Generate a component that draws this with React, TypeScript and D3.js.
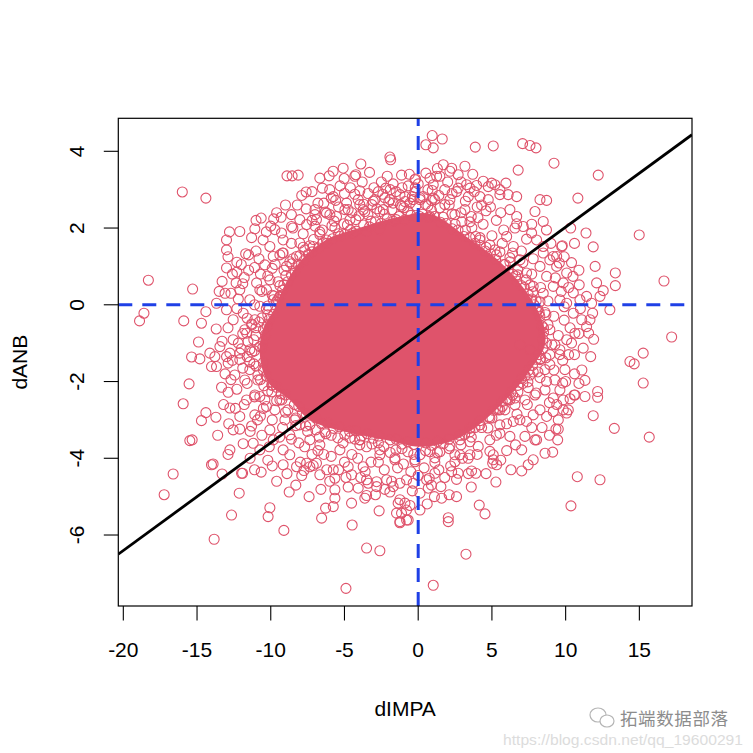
import React from 'react'
import * as d3 from 'd3'

// dIMPA (x) vs dANB (y)
const X_TICKS = [-20, -15, -10, -5, 0, 5, 10, 15]
const Y_TICKS = [-6, -4, -2, 0, 2, 4]

// least-squares fit drawn with abline
const FIT = { intercept: -0.785, slope: 0.281 }

// where the circles overplot into a solid blob (boundary, data units)
const DENSE_CORE: [number, number][] = [
  [-5.99, 1.75], [-3.96, 2.01], [-1.58, 2.27], [0.79, 2.37], [3.17, 1.8], [5.54, 1.12],
  [7.24, 0.39], [8.39, -0.39], [8.6, -1.04], [7.71, -1.64], [6.56, -2.22], [4.52, -3.0],
  [2.49, -3.52], [0.12, -3.7], [-2.26, -3.52], [-4.97, -3.31], [-7.35, -3.0], [-8.71, -2.48],
  [-10.2, -2.01], [-10.74, -1.3], [-10.54, -0.65], [-9.72, -0.08], [-9.04, 0.52], [-8.03, 1.12],
  [-7.01, 1.49],
]

// sparse points: upper-left
const PTS_UPPER_LEFT: [number, number][] = [
  [-16.0, 2.94], [-14.4, 2.78], [-18.3, 0.64], [-15.3, 0.41], [-18.6, -0.22], [-18.9, -0.42],
  [-15.9, -0.42], [-14.7, -0.48], [-14.9, -0.97], [-14.4, -0.18], [-13.7, -0.63],
  [-8.9, 3.36], [-8.55, 3.36], [-8.14, 3.38], [-7.6, 2.94], [-6.67, 3.3], [-6.5, 3.04],
  [-6.04, 3.36], [-5.77, 3.48], [-5.09, 3.56], [-5.02, 3.29], [-4.23, 3.39], [-3.89, 3.67],
  [-3.96, 2.97], [-1.92, 3.85], [-1.87, 3.78], [-2.1, 3.35], [-1.13, 3.38], [-2.2, 3.04],
  [-1.9, 3.0], [-0.18, 3.28], [0.52, 4.17], [0.52, 3.43],
  [-10.65, 2.26], [-9.8, 2.24], [-9.3, 2.28], [-8.6, 2.35], [-12.1, 1.91], [-11.08, 1.98],
  [-13.0, 1.69], [-13.0, 1.43], [-11.7, 1.33], [-13.0, 0.96], [-12.3, 1.11], [-13.3, 0.61],
  [-13.1, 0.3], [-12.3, 0.85], [-12.35, 0.57], [-11.8, 0.71], [-11.1, 0.97], [-10.7, 0.8],
  [-10.52, 1.69], [-10.06, 1.52], [-9.72, 1.96], [-9.27, 1.87], [-8.59, 2.04], [-8.03, 2.22],
  [-7.57, 2.09], [-7.0, 2.48], [-6.9, 2.22], [-6.22, 2.39], [-5.76, 2.82], [-5.54, 2.3],
  [-4.86, 2.65], [-4.75, 2.48], [-4.07, 2.74], [-3.73, 2.48], [-3.05, 2.7], [-2.37, 2.48],
  [-1.7, 2.65], [-1.13, 2.56], [-0.56, 2.65], [0.12, 2.74], [0.79, 2.3],
  [-10.96, 0.57], [-10.29, 0.39], [-9.83, 0.13], [-9.38, 0.22], [-10.74, -0.04], [-11.87, -0.22],
  [-12.55, -0.39], [-13.0, -0.13], [-13.68, 0.04], [-11.64, -0.74], [-12.55, -0.91],
  [-13.45, -1.09], [-14.13, -1.26], [-12.1, -1.26], [-10.74, -1.09], [-13.0, -1.35],
  [-9.16, 1.35], [-8.93, 1.0], [-8.25, 1.26], [-8.03, 1.61], [-7.12, 1.52], [-6.22, 1.69],
  [-5.31, 1.78], [-4.41, 1.87], [-3.5, 1.91], [-2.6, 1.96], [-9.16, 1.69], [-9.83, 1.26],
  [-6.4, 2.65], [-5.0, 2.9], [-3.4, 2.9], [-2.7, 2.95], [-1.5, 2.95],
  [-11.42, 0.13], [-10.74, 0.39], [-10.06, 0.65], [-11.08, -0.39], [-11.76, -0.65],
  [-10.4, 1.04], [-9.38, 1.3], [-12.1, 0.39],
  [-11.5, 1.3], [-12.6, 0.8], [-11.9, 0.55], [-12.8, 1.9], [-10.0, 2.05], [-11.0, 2.2],
  [-9.0, 2.6], [-7.9, 2.85], [-7.2, 2.95], [-5.3, 3.1],
]

// sparse points: upper-right
const PTS_UPPER_RIGHT: [number, number][] = [
  [0.95, 4.41], [1.02, 4.09], [1.63, 4.32], [3.87, 4.11], [5.09, 4.14], [7.08, 4.2],
  [7.58, 4.15], [7.99, 4.09], [9.21, 3.69], [12.21, 3.38], [10.83, 2.78], [6.78, 3.51],
  [14.99, 1.82], [11.38, 1.87], [11.87, 1.51], [13.37, 0.83], [13.37, 0.5], [16.67, 0.62],
  [12.1, 0.57], [12.55, 0.37], [12.33, 0.22], [13.0, -0.13], [17.19, -0.84], [15.26, -1.26],
  [10.34, 2.0], [10.5, 0.74], [10.92, 0.52], [11.42, 0.22], [11.76, 0.04], [11.83, -0.22],
  [11.65, -0.39], [11.56, -0.74], [11.19, -1.13], [9.77, 1.54], [9.39, 1.26], [9.57, 1.09],
  [7.35, 1.71], [6.56, 2.0], [6.68, 2.11], [8.26, 2.74], [8.71, 2.72], [7.92, 2.43],
  [8.48, 2.17], [6.68, 2.82], [5.95, 3.17], [5.2, 3.13], [4.75, 3.08], [3.96, 3.11],
  [3.17, 3.61], [2.27, 3.56], [1.7, 3.65], [1.25, 3.35], [-0.22, 3.26], [-0.68, 3.1],
  [0.95, 2.98], [1.02, 2.78], [2.71, 3.04], [2.6, 2.95], [4.19, 2.82], [4.75, 2.74],
  [5.54, 2.87], [8.48, 1.52], [9.16, 1.26], [9.73, 1.52], [10.07, 0.83], [9.84, 0.57],
  [10.52, 0.31], [10.97, 0.13], [10.52, -0.22], [11.09, -0.39], [11.42, -0.57], [10.63, -0.74],
  [10.07, -0.91],
  [-0.9, 2.82], [-0.34, 2.74], [0.34, 2.82], [1.02, 3.13], [1.47, 3.35], [2.15, 3.48],
  [2.71, 3.39], [3.28, 3.13], [3.51, 3.04], [4.41, 3.22], [4.98, 3.17], [5.54, 3.0], [6.1, 2.87],
  [6.22, 2.48], [6.68, 2.3], [7.12, 2.04], [7.69, 1.87], [8.03, 1.69], [8.48, 1.35],
  [8.93, 1.17], [9.39, 1.0], [8.26, 1.0], [8.71, 0.74], [9.16, 0.48], [9.61, 0.13],
  [10.07, 0.04], [8.48, 0.3], [7.8, 0.48], [7.35, 0.83], [6.9, 1.17], [6.45, 1.52], [6.0, 1.78],
  [4.6, 2.45], [5.3, 2.2], [5.8, 1.95], [4.0, 2.55], [3.2, 2.7], [2.3, 2.9], [7.0, 1.4],
  [7.8, 1.2], [8.0, 0.1], [9.3, 0.7], [8.6, -0.2], [9.9, -0.4],
]

// sparse points: lower-right
const PTS_LOWER_RIGHT: [number, number][] = [
  [14.36, -1.48], [14.65, -1.54], [15.26, -2.04], [15.67, -3.45], [13.3, -3.22], [11.31, -1.97],
  [11.31, -2.39], [12.17, -2.26], [12.17, -2.41], [10.63, -2.35], [11.87, -2.89], [10.79, -4.48],
  [12.33, -4.56], [10.36, -5.24], [3.24, -6.5], [1.02, -7.31], [4.14, -5.22], [4.53, -5.45],
  [2.04, -5.55], [2.04, -5.65], [5.27, -4.62], [1.54, -4.74], [2.1, -4.95], [1.59, -5.04],
  [0.61, -5.19], [0.12, -5.35], [-0.56, -5.23], [-0.79, -5.61], [-1.24, -5.65], [0.68, -4.78],
  [0.57, -4.56], [1.13, -4.39], [0.75, -4.52], [2.71, -4.39], [3.62, -4.33], [3.91, -4.39],
  [2.27, -4.35], [6.29, -4.3], [7.02, -4.33], [5.32, -4.17], [5.09, -4.04], [5.09, -3.91],
  [7.02, -3.78], [7.46, -4.17], [7.8, -4.04], [7.92, -3.52], [8.6, -3.87], [9.12, -3.84],
  [9.46, -3.52], [9.34, -3.24], [9.5, -3.24], [8.71, -2.91], [9.16, -2.78], [10.07, -2.82],
  [10.18, -2.74], [9.84, -2.74], [10.58, -2.35], [9.84, -2.48], [9.16, -2.43], [9.8, -2.04],
  [7.8, -2.87], [7.35, -3.04], [8.03, -3.52], [6.45, -3.04], [5.54, -3.35], [6.22, -3.43],
  [7.24, -3.43], [3.39, -4.0], [2.83, -3.91], [4.07, -3.69], [4.86, -3.82], [5.05, -4.13],
  [0.12, -4.91], [-0.34, -4.65], [-0.79, -4.56], [-1.24, -4.65], [-0.9, -5.17], [-1.13, -5.43],
  [6.9, -1.04], [7.58, -1.17], [8.26, -1.43], [8.93, -1.3], [9.61, -1.17], [9.95, -1.69],
  [9.27, -1.96], [8.6, -2.22], [7.92, -2.35], [7.24, -2.48], [6.56, -2.61], [5.88, -2.74],
  [7.58, -1.83], [8.6, -1.69], [9.61, -2.22], [8.26, -2.74], [6.9, -3.0], [5.54, -3.13],
  [4.86, -3.52], [6.22, -2.48], [10.2, -1.3], [10.6, -1.8], [9.5, -3.0],
]

// sparse points: lower-left
const PTS_LOWER_LEFT: [number, number][] = [
  [-15.37, -1.36], [-14.81, -1.41], [-14.02, -1.61], [-13.68, -1.61], [-12.89, -1.52],
  [-12.77, -1.26], [-13.79, -1.35], [-15.54, -2.06], [-15.94, -2.58], [-13.34, -2.15],
  [-12.89, -2.28], [-14.4, -2.81], [-14.7, -3.02], [-13.72, -2.93], [-12.77, -2.69],
  [-15.49, -3.54], [-15.33, -3.52], [-16.62, -4.41], [-17.23, -4.95], [-14.02, -4.17],
  [-13.91, -4.15], [-13.3, -4.41], [-12.14, -4.91], [-11.91, -4.39], [-12.66, -5.48],
  [-13.84, -6.11], [-10.65, -4.36], [-10.06, -5.29], [-10.18, -5.52], [-9.11, -5.88],
  [-8.75, -4.88], [-9.16, -4.17], [-7.75, -4.32], [-7.35, -4.22], [-7.12, -4.19], [-6.6, -4.81],
  [-5.65, -4.52], [-5.65, -4.82], [-5.65, -5.04], [-5.76, -5.26], [-6.28, -5.3], [-6.55, -5.56],
  [-4.52, -4.43], [-4.75, -4.75], [-4.52, -5.17], [-4.48, -5.74], [-3.5, -6.34], [-2.6, -6.41],
  [-4.9, -7.39], [-2.65, -5.37], [-3.62, -5.04], [-3.5, -4.97], [-4.07, -4.78], [-3.39, -4.65],
  [-2.82, -4.61], [-2.26, -4.81], [-1.92, -4.88], [-1.36, -5.17], [-1.47, -5.43], [-1.24, -5.68],
  [-0.68, -5.61],
  [-12.1, -3.24], [-11.3, -3.16], [-11.87, -3.62], [-11.19, -3.61], [-10.74, -3.78], [-11.98, -4.39],
  [-9.83, -3.52], [-9.16, -3.78], [-8.71, -3.91], [-8.25, -4.22], [-7.57, -4.13], [-6.9, -4.13],
  [-6.67, -4.43], [-5.76, -4.3], [-4.75, -4.22], [-3.73, -4.22], [-3.5, -4.56], [-2.82, -4.74],
  [-2.14, -4.56], [-1.7, -4.74], [-1.24, -5.08], [-0.79, -5.35],
  [-11.64, -2.48], [-10.74, -2.39], [-10.29, -2.65], [-12.1, -2.91], [-12.55, -3.26], [-12.77, -3.78],
  [-12.1, -1.43], [-11.42, -1.69], [-11.76, -1.96], [-11.08, -2.35], [-10.4, -2.48], [-9.72, -2.74],
  [-9.04, -3.0], [-8.03, -3.13], [-11.42, -1.17], [-12.44, -1.83], [-11.08, -2.87], [-10.06, -3.26],
  [-8.71, -3.39], [-7.35, -3.52], [-6.67, -3.65], [-5.31, -3.78], [-3.96, -3.65], [-2.6, -3.91],
  [-1.58, -4.04], [-0.22, -4.09], [1.13, -4.11], [2.49, -4.09], [3.51, -3.91],
  [-13.2, -2.6], [-12.3, -2.2], [-13.6, -3.4], [-12.9, -3.9], [-11.4, -4.0], [-10.2, -4.05],
  [-9.6, -4.6], [-8.3, -4.7], [-7.4, -5.0], [-10.9, -3.0],
]

// heavily overlapping points hugging the solid core
const PTS_CORE_EDGE: [number, number][] = [
  [-2.26, 2.79], [-1.24, 2.87], [-0.22, 2.95], [0.66, 3.0], [1.81, 2.61], [2.49, 2.35],
  [3.51, 2.16], [4.19, 1.69], [5.2, 1.43], [6.22, 1.23], [6.76, 0.78], [7.58, 0.52],
  [8.12, -0.13], [8.8, -0.52], [9.27, -1.04], [8.93, -1.56], [8.26, -1.9], [7.46, -2.16],
  [6.56, -2.43], [5.54, -2.74], [4.73, -3.21], [3.51, -3.57], [2.49, -3.91], [1.13, -3.99],
  [-0.22, -4.04], [-1.58, -3.99], [-2.6, -3.78], [-3.96, -3.52], [-4.98, -3.39], [-6.33, -3.31],
  [-7.35, -3.13], [-8.37, -3.0], [-9.25, -2.48], [-9.93, -2.09], [-10.88, -1.96], [-11.42, -1.49],
  [-11.55, -0.96], [-11.28, -0.52], [-10.2, -0.26], [-9.52, 0.13], [-9.11, 0.52], [-8.71, 1.12],
  [-7.69, 1.43], [-6.67, 1.83], [-5.65, 2.01], [-4.63, 2.22], [-3.62, 2.43], [-3.14, 2.61],
  [-6.67, 1.9], [-5.85, 2.06], [-5.04, 2.11], [-4.23, 2.22], [-3.41, 2.35], [-2.6, 2.43],
  [-1.78, 2.48], [-0.97, 2.53], [-0.16, 2.58], [0.66, 2.58], [1.47, 2.53], [2.29, 2.37],
  [2.96, 2.16], [3.64, 2.01], [-5.99, 2.35], [-4.97, 2.48], [-3.96, 2.61], [-2.94, 2.74],
  [-1.92, 2.74], [-0.9, 2.69], [0.12, 2.79], [1.13, 2.74], [2.15, 2.74], [3.17, 2.48], [4.05, 2.27],
  [4.19, 1.75], [4.86, 1.56], [5.54, 1.38], [6.22, 1.12], [6.76, 0.91], [7.31, 0.65],
  [7.78, 0.34], [8.26, 0.08], [8.66, -0.26], [8.93, -0.65], [9.07, -1.04], [8.66, -1.38],
  [8.12, -1.75], [7.44, -2.01], [6.76, -2.27], [6.09, -2.48], [5.41, -2.74], [4.86, -2.95],
  [4.19, -3.13], [3.51, -3.31], [2.83, -3.52], [2.15, -3.68], [1.47, -3.83], [0.79, -3.83],
  [0.12, -3.91], [-0.7, -3.83], [-1.51, -3.78], [-2.33, -3.7], [-3.14, -3.63], [-3.96, -3.52],
  [-4.63, -3.47], [-5.45, -3.47], [-6.26, -3.36], [-6.94, -3.26], [-7.62, -3.16], [-8.3, -2.95],
  [-8.84, -2.74], [-9.38, -2.48], [-9.93, -2.27], [-10.47, -2.11], [-10.87, -1.83], [-11.15, -1.54],
  [-11.28, -1.23], [-11.15, -0.91], [-11.01, -0.6], [-10.6, -0.34], [-10.2, -0.03], [-9.79, 0.23],
  [-9.38, 0.5], [-8.98, 0.76], [-8.57, 1.07], [-8.03, 1.28], [-7.35, 1.54],
]

// second ring of dense points just outside the core's edge
const PTS_CORE_BAND: [number, number][] = [
  [-6.5, 1.95], [-5.7, 2.18], [-4.8, 2.08], [-4.0, 2.32], [-3.2, 2.18], [-2.3, 2.36], [-1.5, 2.22],
  [-0.7, 2.44], [0.1, 2.3], [0.9, 2.46], [1.7, 2.28], [2.5, 2.1], [3.2, 1.95], [3.9, 1.78],
  [-7.2, 2.2], [-6.3, 2.42], [-5.4, 2.55], [-4.5, 2.4], [-3.7, 2.62], [-2.8, 2.5], [-2.0, 2.68],
  [-1.2, 2.6], [-0.4, 2.82], [0.5, 2.62], [1.4, 2.85], [2.1, 2.6], [2.9, 2.4], [3.6, 2.3], [4.4, 2.1],
  [-5.9, 2.78], [-4.3, 2.88], [-3.0, 3.05], [-1.7, 3.15], [-0.2, 3.05], [1.8, 3.0], [3.4, 2.82], [4.3, 2.6],
  [4.6, 1.5], [5.3, 1.3], [5.9, 1.05], [6.6, 0.75], [7.2, 0.45], [7.7, 0.15], [8.2, -0.2], [8.5, -0.6],
  [8.7, -1.0], [8.3, -1.4], [7.8, -1.75], [7.1, -2.05], [6.4, -2.35], [5.7, -2.65], [5.0, -2.95], [4.3, -3.2],
  [5.0, 1.8], [5.7, 1.6], [6.4, 1.35], [7.1, 1.1], [7.7, 0.8], [8.3, 0.45], [8.8, 0.1], [9.2, -0.3],
  [9.5, -0.8], [9.6, -1.3], [9.2, -1.7], [8.7, -2.0], [8.0, -2.3], [7.4, -2.6], [6.7, -2.85], [6.0, -3.1],
  [5.3, -3.4], [9.9, -0.05], [10.3, -0.6], [10.4, -1.0], [10.0, -2.0], [8.9, -2.55], [7.7, -3.2], [6.6, -3.65],
  [3.6, -3.45], [2.9, -3.65], [2.1, -3.75], [1.3, -3.85], [0.5, -3.8], [-0.3, -3.9], [-1.1, -3.75],
  [-1.9, -3.85], [-2.7, -3.6], [-3.5, -3.7], [-4.3, -3.5], [-5.1, -3.6], [-5.9, -3.4], [-6.7, -3.45],
  [-7.5, -3.3], [-8.3, -3.15], [3.0, -4.0], [2.2, -4.2], [1.4, -4.3], [0.4, -4.25], [-0.5, -4.35],
  [-1.4, -4.25], [-2.3, -4.3], [-3.2, -4.1], [-4.1, -4.0], [-5.0, -4.1], [-5.9, -3.95], [-6.8, -3.8],
  [-7.7, -3.7], [-8.6, -3.5], [0.9, -4.7], [-1.8, -4.6], [-3.9, -4.5], [-6.2, -4.3], [-8.0, -4.1],
  [-9.0, -2.8], [-9.6, -2.5], [-10.2, -2.25], [-10.7, -1.95], [-11.0, -1.6], [-11.1, -1.2], [-11.0, -0.8],
  [-10.8, -0.45], [-10.3, -0.1], [-9.9, 0.25], [-9.5, 0.6], [-9.1, 0.9], [-8.5, 1.2], [-7.8, 1.5], [-7.1, 1.7],
  [-9.9, -3.0], [-10.5, -2.7], [-11.1, -2.4], [-11.6, -2.05], [-11.9, -1.65], [-12.0, -1.15], [-11.9, -0.75],
  [-11.6, -0.35], [-11.1, 0.0], [-10.6, 0.35], [-10.2, 0.75], [-9.7, 1.05], [-9.2, 1.35], [-8.6, 1.6],
  [-7.8, 1.85], [-7.0, 2.05], [-12.7, -1.95], [-12.9, -0.6], [-12.2, 0.15], [-11.0, 1.4], [-8.5, 2.0],
]

// points sitting right on the rim of the solid core, so its edge breaks up into rings
const PTS_CORE_RIM: [number, number][] = [
  [-5.8, 1.72], [-5.4, 1.85], [-5.0, 1.83], [-4.6, 1.95], [-4.2, 1.92],
  [-3.7, 2.08], [-3.3, 2.03], [-2.9, 2.16], [-2.5, 2.12], [-2.1, 2.24], [-1.7, 2.18],
  [-1.3, 2.3], [-0.9, 2.22], [-0.5, 2.33], [-0.1, 2.27], [0.3, 2.36], [0.7, 2.28],
  [1.1, 2.3], [1.5, 2.15], [1.9, 2.12], [2.3, 1.98], [2.7, 1.95], [3.1, 1.78],
  [3.5, 1.75], [3.85, 1.6], [4.2, 1.55], [4.55, 1.4], [4.9, 1.33], [5.25, 1.18],
  [5.8, 1.05], [6.1, 0.9], [6.4, 0.8], [6.7, 0.62], [7.0, 0.5],
  [7.45, 0.28], [7.65, 0.12], [7.85, 0.0], [8.05, -0.15], [8.25, -0.3],
  [8.4, -0.55], [8.5, -0.72], [8.45, -0.9],
  [8.45, -1.15], [8.2, -1.3], [8.0, -1.42], [7.75, -1.58],
  [7.5, -1.7], [7.25, -1.85], [7.0, -1.92], [6.75, -2.1],
  [6.3, -2.28], [6.0, -2.45], [5.7, -2.52], [5.4, -2.7], [5.1, -2.75], [4.8, -2.92],
  [4.2, -3.02], [3.85, -3.2], [3.5, -3.22], [3.15, -3.38], [2.8, -3.4],
  [2.1, -3.5], [1.7, -3.62], [1.3, -3.56], [0.9, -3.66], [0.5, -3.6],
  [-0.3, -3.64], [-0.7, -3.57], [-1.1, -3.63], [-1.5, -3.5], [-1.9, -3.52],
  [-2.65, -3.42], [-3.05, -3.48], [-3.45, -3.36], [-3.85, -3.42], [-4.25, -3.28], [-4.65, -3.3],
  [-5.35, -3.18], [-5.75, -3.22], [-6.15, -3.08], [-6.55, -3.1], [-6.95, -2.95],
  [-7.6, -2.85], [-7.85, -2.82], [-8.1, -2.65], [-8.4, -2.6],
  [-9.0, -2.35], [-9.3, -2.32], [-9.6, -2.15], [-9.9, -2.1],
  [-10.3, -1.85], [-10.5, -1.7], [-10.5, -1.5],
  [-10.55, -1.12], [-10.5, -0.95], [-10.35, -0.78],
  [-10.25, -0.55], [-10.1, -0.38], [-9.8, -0.25],
  [-9.6, 0.08], [-9.4, 0.2], [-9.2, 0.38],
  [-8.85, 0.6], [-8.6, 0.78], [-8.35, 0.88], [-8.15, 1.05],
  [-7.75, 1.15], [-7.45, 1.32], [-7.2, 1.38],
  [-6.75, 1.48], [-6.45, 1.62], [-6.2, 1.6],
]

// extra points in the crowded fringe all round the core
const PTS_FRINGE: [number, number][] = [
  [-12.3, -0.1], [-12.7, 0.3], [-11.5, 0.9], [-12.0, 1.05], [-11.3, -0.5], [-12.2, -1.0],
  [-12.6, -1.45], [-11.8, -2.6], [-11.4, -3.3], [-10.6, -3.4], [-10.1, -3.7], [-9.4, -3.45],
  [-12.4, -2.7], [-13.1, -1.8], [-13.3, -0.95], [-13.5, 0.35], [-12.9, 1.25], [-11.3, 1.75],
  [-10.3, 1.9], [-9.6, 2.4], [-10.8, 1.2], [-9.9, 0.95], [-10.5, -0.65], [-11.6, -1.35],
  [-10.7, -2.9], [-9.2, -3.2], [-12.85, -3.1], [-11.1, -4.3], [-9.9, -4.2], [-8.9, -4.4],
  [-7.6, 2.5], [-6.8, 2.65], [-5.6, 2.72], [-4.6, 3.05], [-3.8, 3.2], [-2.5, 3.2], [-1.1, 3.05],
  [0.0, 3.15], [0.8, 3.3], [2.0, 3.2], [2.9, 3.2], [3.8, 2.95], [4.9, 2.55], [-8.2, 2.6],
  [-6.0, 3.0], [-4.3, 3.35], [-3.3, 3.45], [-0.6, 3.4], [1.3, 3.55], [3.7, 3.4], [5.6, 2.4],
  [-7.0, 2.35], [-2.4, 2.88], [0.9, 2.72],
  [9.0, 1.6], [9.9, 1.25], [10.4, 1.1], [10.9, 0.9], [10.2, 0.45], [11.0, -0.1], [10.9, -0.75],
  [10.6, -1.3], [11.1, -1.7], [10.9, -2.05], [10.3, -2.45], [9.4, -2.6], [8.4, -3.2], [8.9, -3.4],
  [9.7, 0.35], [7.7, 2.1], [8.7, 1.95], [9.8, -1.45], [11.7, -1.35], [11.9, -0.9], [12.0, 1.0],
  [10.6, 1.6],
  [4.0, -3.9], [3.4, -4.4], [2.6, -4.55], [1.8, -4.5], [0.0, -4.45], [-1.0, -4.15], [-2.7, -4.1],
  [-3.6, -4.35], [-4.5, -3.9], [-5.4, -4.3], [-6.4, -3.9], [-7.2, -3.9], [-8.1, -3.6], [-4.9, -4.5],
  [-2.9, -4.95], [-0.4, -4.85], [1.1, -5.0], [2.6, -5.0], [3.6, -4.75], [4.6, -4.4], [6.0, -3.8],
  [5.6, -4.05], [-6.0, -4.6], [-7.9, -4.45],
]

const ALL_POINTS = [
  ...PTS_UPPER_LEFT, ...PTS_UPPER_RIGHT, ...PTS_LOWER_RIGHT, ...PTS_LOWER_LEFT,
  ...PTS_FRINGE, ...PTS_CORE_EDGE, ...PTS_CORE_BAND, ...PTS_CORE_RIM,
]

const W = 753
const H = 753
const M = { left: 118.3, right: 692, top: 118.3, bottom: 606 }
const PINK = '#DF536B'
const BLUE = '#1f40e6'
const FONT = '"Liberation Sans", Arial, Helvetica, sans-serif'

export default function App() {
  const x = d3.scaleLinear().domain([-20.34, 18.57]).range([M.left, M.right])
  const y = d3.scaleLinear().domain([-7.85, 4.86]).range([M.bottom, M.top])

  const corePath = d3.line<[number, number]>()
    .x(d => x(d[0]))
    .y(d => y(d[1]))
    .curve(d3.curveCatmullRomClosed)(DENSE_CORE) ?? ''

  const [x0, x1] = x.domain()
  const yMid = (M.top + M.bottom) / 2
  const xMid = (M.left + M.right) / 2

  return (
    <svg width={W} height={H} style={{ position: 'absolute', left: 0, top: 0, background: '#fff' }}
      fontFamily={FONT}>
      <defs>
        <clipPath id="plot">
          <rect x={M.left} y={M.top} width={M.right - M.left} height={M.bottom - M.top} />
        </clipPath>
      </defs>

      <g clipPath="url(#plot)">
        <path d={corePath} fill={PINK} />
        {ALL_POINTS.map((d, i) => (
          <circle key={i} cx={x(d[0])} cy={y(d[1])} r={5} fill="none" stroke={PINK} strokeWidth={1.1} />
        ))}

        {/* reference lines at 0 */}
        <line x1={M.left} x2={M.right} y1={y(0)} y2={y(0)}
          stroke={BLUE} strokeWidth={3} strokeDasharray="14 10" />
        <line x1={x(0)} x2={x(0)} y1={M.bottom} y2={M.top}
          stroke={BLUE} strokeWidth={3} strokeDasharray="14 10" />

        {/* regression line */}
        <line x1={x(x0)} y1={y(FIT.intercept + FIT.slope * x0)}
          x2={x(x1)} y2={y(FIT.intercept + FIT.slope * x1)}
          stroke="#000" strokeWidth={2.8} />
      </g>

      <rect x={M.left} y={M.top} width={M.right - M.left} height={M.bottom - M.top}
        fill="none" stroke="#000" strokeWidth={1.2} />

      {/* x axis */}
      {X_TICKS.map(t => (
        <g key={t}>
          <line x1={x(t)} x2={x(t)} y1={M.bottom} y2={M.bottom + 14.5} stroke="#000" strokeWidth={1.1} />
          <text x={x(t)} y={656.5} textAnchor="middle" fontSize={21}>{t}</text>
        </g>
      ))}
      <text x={xMid} y={716} textAnchor="middle" fontSize={21}>dIMPA</text>

      {/* y axis */}
      {Y_TICKS.map(t => (
        <g key={t}>
          <line x1={M.left - 14.5} x2={M.left} y1={y(t)} y2={y(t)} stroke="#000" strokeWidth={1.1} />
          <text transform={`translate(83.5,${y(t)}) rotate(-90)`} textAnchor="middle" fontSize={21}>{t}</text>
        </g>
      ))}
      <text transform={`translate(26.5,${yMid}) rotate(-90)`} textAnchor="middle" fontSize={21}>dANB</text>

      {/* watermark */}
      <g fill="none" stroke="#b5b5b5" strokeWidth={1.2}>
        <ellipse cx={598} cy={715} rx={8} ry={7} />
        <ellipse cx={607} cy={721} rx={7} ry={6} fill="#fff" />
      </g>
      <text x={620} y={725} fontSize={17.5} fill="#8c8c8c"
        fontFamily='"Noto Sans CJK SC", sans-serif' textLength={108}>拓端数据部落</text>
      <text x={503} y={745} fontSize={15} fill="#dcdcdc" textLength={240}
        lengthAdjust="spacingAndGlyphs">https://blog.csdn.net/qq_19600291</text>
    </svg>
  )
}
